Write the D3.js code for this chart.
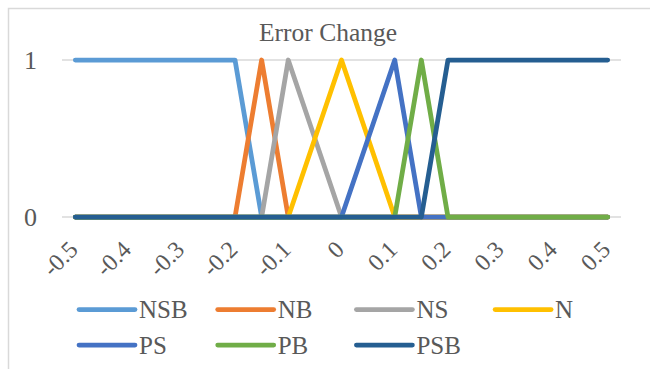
<!DOCTYPE html>
<html>
<head>
<meta charset="utf-8">
<script src="https://cdn.jsdelivr.net/npm/d3@7"></script>
<style>
  html, body { margin: 0; padding: 0; background: #fff; }
  svg { display: block; }
</style>
</head>
<body>
<svg id="chart" width="650" height="369"></svg>
<script>
// Membership functions of the error-change input, sampled every 0.05
const categories = ["-0.5","-0.45","-0.4","-0.35","-0.3","-0.25","-0.2","-0.15","-0.1","-0.05",
                    "0","0.05","0.1","0.15","0.2","0.25","0.3","0.35","0.4","0.45","0.5"];
const tickLabels = ["-0.5","-0.4","-0.3","-0.2","-0.1","0","0.1","0.2","0.3","0.4","0.5"];
const yTicks = [0, 1];

const NSB = [1,1,1,1,1,1,1,0,0,0,0,0,0,0,0,0,0,0,0,0,0];
const NB  = [0,0,0,0,0,0,0,1,0,0,0,0,0,0,0,0,0,0,0,0,0];
const NS  = [0,0,0,0,0,0,0,0,1,0.5,0,0,0,0,0,0,0,0,0,0,0];
const N   = [0,0,0,0,0,0,0,0,0,0.5,1,0.5,0,0,0,0,0,0,0,0,0];
const PS  = [0,0,0,0,0,0,0,0,0,0,0,0.5,1,0,0,0,0,0,0,0,0];
const PB  = [0,0,0,0,0,0,0,0,0,0,0,0,0,1,0,0,0,0,0,0,0];
const PSB = [0,0,0,0,0,0,0,0,0,0,0,0,0,0,1,1,1,1,1,1,1];

const seriesNames = ["NSB","NB","NS","N","PS","PB","PSB"];
const seriesValues = [NSB, NB, NS, N, PS, PB, PSB];
const seriesColors = ["#5B9BD5","#ED7D31","#A5A5A5","#FFC000","#4472C4","#70AD47","#255E91"];

const FONT = "'Liberation Serif', serif";
const TEXT_COLOR = "#595959";

const svg = d3.select("#chart");

// chart area frame
svg.append("rect")
  .attr("x", 8.5).attr("y", 8.5)
  .attr("width", 700).attr("height", 400)
  .attr("fill", "none").attr("stroke", "#D9D9D9").attr("stroke-width", 1.5);

const x = d3.scalePoint().domain(categories).range([62, 621]).padding(0.5);
const y = d3.scaleLinear().domain([0, 1]).range([217, 60]);

// title
svg.append("text")
  .attr("x", 328).attr("y", 41)
  .attr("text-anchor", "middle")
  .attr("font-family", FONT).attr("fill", TEXT_COLOR)
  .attr("font-size", 25.5)
  .text("Error Change");

// horizontal gridlines
svg.append("g").selectAll("line").data(yTicks).join("line")
  .attr("x1", 62).attr("x2", 621)
  .attr("y1", d => y(d)).attr("y2", d => y(d))
  .attr("stroke", "#D9D9D9").attr("stroke-width", 1.5);

// y-axis labels
svg.append("g").selectAll("text").data(yTicks).join("text")
  .attr("x", 37).attr("y", d => y(d) + 9)
  .attr("text-anchor", "end")
  .attr("font-family", FONT).attr("fill", TEXT_COLOR)
  .attr("font-size", 26)
  .text(d => d);

// x-axis labels, rotated
svg.append("g").selectAll("text").data(tickLabels).join("text")
  .attr("transform", d => `translate(${x(d) - 2},${245}) rotate(-45)`)
  .attr("text-anchor", "end")
  .attr("dy", "0.35em")
  .attr("font-family", FONT).attr("fill", TEXT_COLOR)
  .attr("font-size", 24)
  .text(d => d);

// series lines
const line = d3.line()
  .x((d, i) => x(categories[i]))
  .y(d => y(d));

svg.append("g").selectAll("path").data(seriesValues).join("path")
  .attr("d", d => line(d))
  .attr("fill", "none")
  .attr("stroke", (d, i) => seriesColors[i])
  .attr("stroke-width", 4.75)
  .attr("stroke-linejoin", "round")
  .attr("stroke-linecap", "round");

// legend
const legendX0 = 79, legendStep = 138.7;
const legendRows = [309.5, 345];
const legend = svg.append("g").selectAll("g").data(seriesNames).join("g")
  .attr("transform", (d, i) => `translate(${legendX0 + (i % 4) * legendStep},${legendRows[Math.floor(i / 4)]})`);
legend.append("line")
  .attr("x1", 0).attr("x2", 56)
  .attr("y1", 0).attr("y2", 0)
  .attr("stroke", (d, i) => seriesColors[i])
  .attr("stroke-width", 4.75)
  .attr("stroke-linecap", "round");
legend.append("text")
  .attr("x", 60).attr("y", 8.5)
  .attr("font-family", FONT).attr("fill", TEXT_COLOR)
  .attr("font-size", 25)
  .text(d => d);
</script>
</body>
</html>
